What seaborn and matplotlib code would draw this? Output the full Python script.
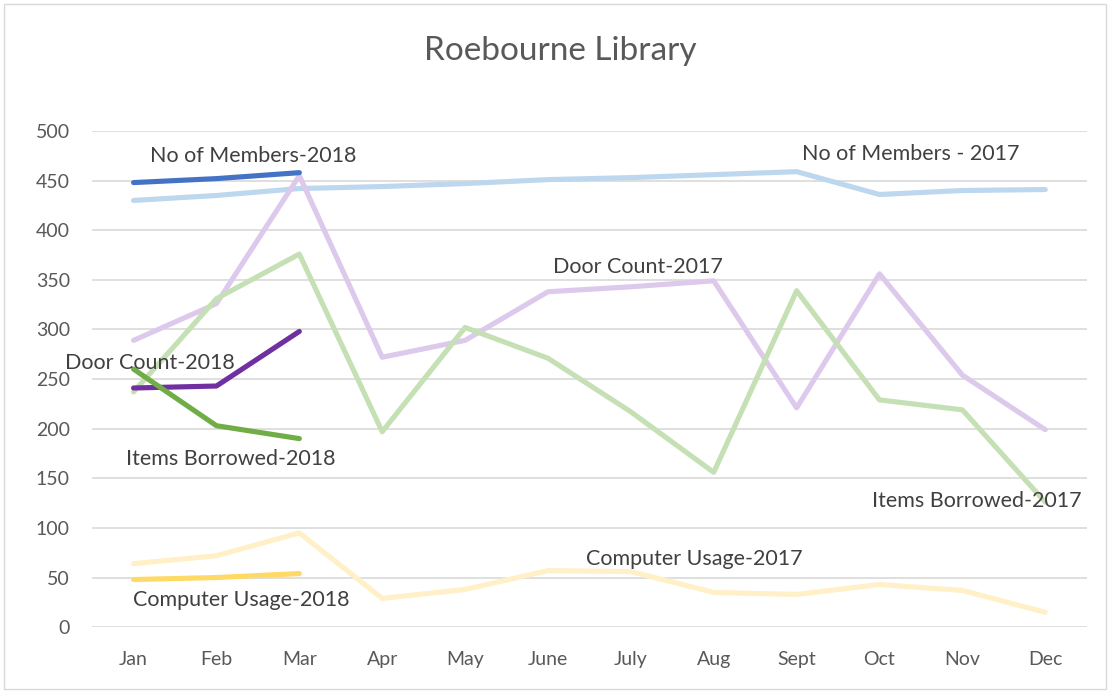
import numpy as np
import pandas as pd
import matplotlib
matplotlib.use("Agg")
import matplotlib.pyplot as plt
import seaborn as sns

# data
months = ["Jan", "Feb", "Mar", "Apr", "May", "June", "July", "Aug", "Sept", "Oct", "Nov", "Dec"]

members_2017 = [430, 435, 442, 444, 447, 451, 453, 456, 459, 436, 440, 441]
door_2017 = [289, 326, 455, 272, 289, 338, 343, 349, 221, 356, 254, 199]
items_2017 = [237, 331, 376, 197, 302, 271, 217, 156, 339, 229, 219, 126]
computer_2017 = [64, 72, 95, 29, 38, 57, 56, 35, 33, 43, 37, 15]

members_2018 = [448, 452, 458]
door_2018 = [241, 243, 298]
items_2018 = [260, 203, 190]
computer_2018 = [48, 50, 54]

sns.set_theme(style="white")
plt.rcParams["font.family"] = ["Lato", "DejaVu Sans"]

fig = plt.figure(figsize=(11.1, 6.93), dpi=100)
ax = fig.add_axes([0.083, 0.095, 0.896, 0.716])

# series in drawing order: (values, colour)
series = [
    (members_2017, "#BDD7EE"),
    (computer_2017, "#FFF0C8"),
    (door_2017, "#DCC9EC"),
    (items_2017, "#C5E0B4"),
    (members_2018, "#4472C4"),
    (door_2018, "#7030A0"),
    (items_2018, "#70AD47"),
    (computer_2018, "#FFD966"),
]
for vals, col in series:
    sns.lineplot(x=np.arange(len(vals)), y=vals, ax=ax, color=col,
                 linewidth=3.7, solid_capstyle="round", solid_joinstyle="round")

ax.set_xlim(-0.5, 11.5)
ax.set_ylim(0, 500)
ax.set_xticks(range(len(months)))
ax.set_xticklabels(months)
ax.set_yticks(range(0, 501, 50))
ax.tick_params(axis="both", length=0, labelsize=14, colors="#595959")
ax.tick_params(axis="x", pad=17)
ax.tick_params(axis="y", pad=16)
ax.yaxis.grid(True, color="#D9D9D9", linewidth=1.2)
ax.set_axisbelow(True)
for s in ax.spines.values():
    s.set_visible(False)
ax.set_xlabel("")
ax.set_ylabel("")

# series labels
lbl = dict(fontsize=15.5, color="#404040", ha="center", va="center")
ax.text(1.44, 475, "No of Members-2018", **lbl)
ax.text(9.38, 477, "No of Members - 2017", **lbl)
ax.text(6.09, 363, "Door Count-2017", **lbl)
ax.text(0.2, 266, "Door Count-2018", **lbl)
ax.text(1.17, 169, "Items Borrowed-2018", **lbl)
ax.text(10.17, 127, "Items Borrowed-2017", **lbl)
ax.text(6.77, 68.5, "Computer Usage-2017", **lbl)
ax.text(1.30, 27, "Computer Usage-2018", **lbl)

fig.text(0.505, 0.926, "Roebourne Library", ha="center", va="center",
         fontsize=24, color="#595959")

# chart area border
fig.patches.append(plt.Rectangle((0.004, 0.006), 0.992, 0.988, transform=fig.transFigure,
                                 fill=False, edgecolor="#D9D9D9", linewidth=1))

fig.savefig("out.png", dpi=100, facecolor="white")
